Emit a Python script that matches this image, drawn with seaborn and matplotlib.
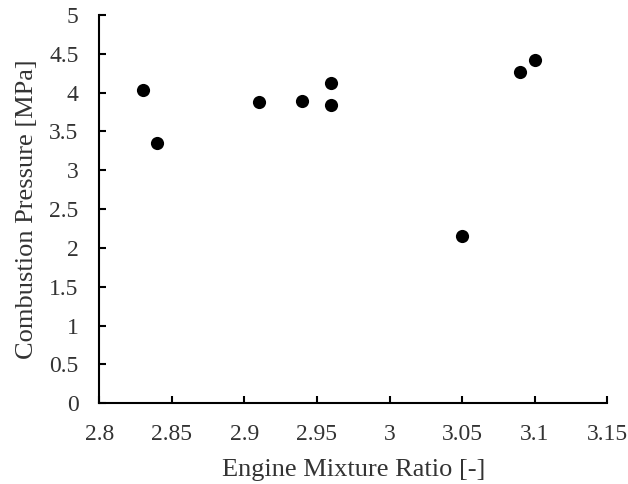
import matplotlib
matplotlib.use("Agg")
import matplotlib.pyplot as plt
import seaborn as sns
import pandas as pd

mixture_ratio = [2.83, 2.84, 2.91, 2.94, 2.96, 2.96, 3.05, 3.09, 3.10]
pressure = [4.04, 3.35, 3.88, 3.89, 4.13, 3.84, 2.15, 4.27, 4.42]
x_ticks = [2.8, 2.85, 2.9, 2.95, 3.0, 3.05, 3.1, 3.15]
x_labels = ["2.8", "2.85", "2.9", "2.95", "3", "3.05", "3.1", "3.15"]
y_ticks = [0, 0.5, 1, 1.5, 2, 2.5, 3, 3.5, 4, 4.5, 5]
y_labels = ["0", "0.5", "1", "1.5", "2", "2.5", "3", "3.5", "4", "4.5", "5"]

sns.set_style("white")
plt.rcParams['font.family'] = ['Liberation Serif', 'DejaVu Serif']

df = pd.DataFrame({"x": mixture_ratio, "y": pressure})
fig = plt.figure(figsize=(6.28, 4.84), dpi=100)
ax = fig.add_axes([0.158, 0.167, 0.809, 0.802])
sns.scatterplot(data=df, x="x", y="y", ax=ax, color="black", s=90, edgecolor="black", linewidth=0)

ax.set_xlim(2.8, 3.15)
ax.set_ylim(0, 5)
ax.set_xticks(x_ticks)
ax.set_xticklabels(x_labels)
ax.set_yticks(y_ticks)
ax.set_yticklabels(y_labels)
ax.set_xlabel("Engine Mixture Ratio [-]", fontsize=19, color="#333333", labelpad=10)
ax.set_ylabel("Combustion Pressure [MPa]", fontsize=19, color="#333333", labelpad=8)
ax.tick_params(axis="both", direction="in", length=5, width=1.5, colors="black",
               labelsize=17, labelcolor="#333333", bottom=True, left=True)
ax.tick_params(axis="y", pad=15)
ax.tick_params(axis="x", pad=15)
for s in ["top", "right"]:
    ax.spines[s].set_visible(False)
for s in ["left", "bottom"]:
    ax.spines[s].set_color("black")
    ax.spines[s].set_linewidth(1.5)

fig.savefig("out.png", dpi=100)
